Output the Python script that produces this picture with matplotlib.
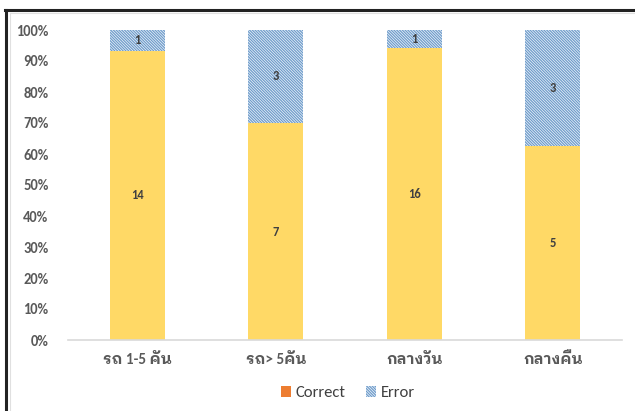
import matplotlib
matplotlib.use("Agg")
import matplotlib.pyplot as plt
from matplotlib.patches import Patch
from matplotlib.lines import Line2D
import numpy as np

categories = ["รถ 1-5 คัน", "รถ> 5คัน", "กลางวัน", "กลางคืน"]
correct = [14, 7, 16, 5]
error = [1, 3, 1, 3]
yticks = [0, 10, 20, 30, 40, 50, 60, 70, 80, 90, 100]

fam = ['Carlito', 'IBM Plex Sans Thai Looped', 'Noto Sans Thai Looped', 'DejaVu Sans']
plt.rcParams['font.family'] = fam
plt.rcParams['hatch.linewidth'] = 0.9
plt.rcParams['hatch.color'] = '#6F9CCB'
HATCH = '\\' * 12

fig = plt.figure(figsize=(6.35, 4.11), dpi=100)
ax = fig.add_axes([68/635, 1-340/411, 554/635, 310/411])

tot = np.array(correct) + np.array(error)
cp = np.array(correct) / tot * 100
ep = np.array(error) / tot * 100
x = np.arange(len(categories))
w = 0.40
ax.bar(x, cp, w, color='#FFD966', edgecolor='none', zorder=2)
ax.bar(x, ep, w, bottom=cp, color='#F4F8FC', edgecolor='#6F9CCB', linewidth=0,
       hatch=HATCH, zorder=2)

for i in range(len(x)):
    ax.text(x[i], cp[i]/2, str(correct[i]), ha='center', va='center',
            fontsize=9, fontweight='bold', color='#404040', zorder=3)
    ax.text(x[i], cp[i] + ep[i]/2, str(error[i]), ha='center', va='center',
            fontsize=9, fontweight='bold', color='#404040', zorder=3)

ax.set_xlim(-0.5, 3.5)
ax.set_ylim(0, 100)
ax.set_yticks(yticks)
ax.set_yticklabels([f"{v}%" for v in yticks], fontsize=10.5, fontweight='bold', color='#595959')
ax.set_xticks(x)
ax.set_xticklabels(categories, fontsize=11, fontweight='bold', color='#595959')
ax.tick_params(axis='x', length=0, pad=9)
ax.tick_params(axis='y', length=0, pad=14)
for s in ['top', 'right', 'left']:
    ax.spines[s].set_visible(False)
ax.spines['bottom'].set_color('#D9D9D9')
ax.spines['bottom'].set_linewidth(1.2)

handles = [Patch(facecolor='#ED7D31', edgecolor='none', label='Correct'),
           Patch(facecolor='#F4F8FC', edgecolor='#6F9CCB', linewidth=0, hatch=HATCH, label='Error')]
leg = fig.legend(handles=handles, loc='center', bbox_to_anchor=(348/635, 1-393/411), ncol=2,
                 frameon=False, fontsize=12, handlelength=0.6, handleheight=0.6,
                 handletextpad=0.3, columnspacing=1.25)
for t in leg.get_texts():
    t.set_color('#404040')

# outer frame lines
fig.add_artist(Line2D([6/635, 6/635], [0, 1-10/411], transform=fig.transFigure, color='#222222', lw=2.2))
fig.add_artist(Line2D([5/635, 1], [1-10/411, 1-10/411], transform=fig.transFigure, color='#222222', lw=2.2))
fig.add_artist(Line2D([10/635, 10/635], [0, 1-13/411], transform=fig.transFigure, color='#E0E0E0', lw=0.8))
fig.add_artist(Line2D([10/635, 1], [1-13/411, 1-13/411], transform=fig.transFigure, color='#E0E0E0', lw=0.8))

fig.savefig('out.png', dpi=100)
